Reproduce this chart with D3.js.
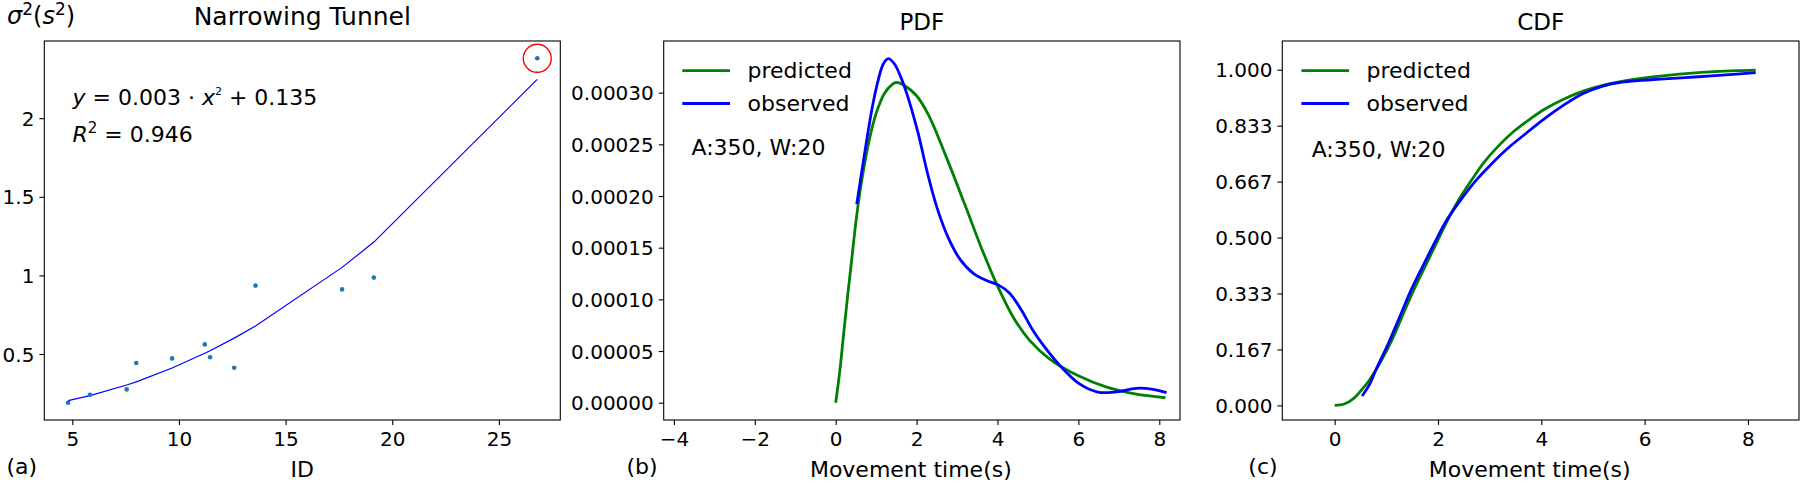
<!DOCTYPE html>
<html>
<head>
<meta charset="utf-8">
<script src="https://cdn.jsdelivr.net/npm/d3@7/dist/d3.min.js"></script>
<style>
  html, body { margin: 0; padding: 0; background: #fff; }
  svg { display: block; }
  text { font-family: "DejaVu Sans", sans-serif; fill: #000; }
</style>
</head>
<body>
<svg id="chart" width="1800" height="482"></svg>
<script>
// ---------------- DATA ----------------
// Panel (a): Narrowing Tunnel
const idValues    = [4.80, 5.83, 7.55, 8.00, 9.68, 11.21, 11.46, 12.59, 13.59, 17.65, 19.14, 26.80];
const sigmaValues = [0.190, 0.241, 0.275, 0.443, 0.472, 0.561, 0.479, 0.413, 0.935, 0.911, 0.986, 2.381];
const fitValues   = [0.203, 0.235, 0.303, 0.323, 0.411, 0.505, 0.521, 0.601, 0.678, 1.051, 1.212, 2.247];
const highlightIndex = 11;
const aXTicks = [5, 10, 15, 20, 25];
const aYTicks = [0.5, 1, 1.5, 2];
const aYTickLabels = ["0.5", "1", "1.5", "2"];

// Panel (b): PDF
const pdfPredX = [0, 0.1, 0.2, 0.3, 0.4, 0.5, 0.6, 0.7, 0.8, 0.9, 1.0, 1.2, 1.4, 1.5, 1.7, 2.0, 2.3, 2.7, 3.2, 3.6, 4.0, 4.4, 4.8, 5.3, 6.0, 6.7, 7.4, 8.15];
const pdfPredY = [0, 0.000030, 0.000068, 0.000105, 0.000140, 0.000175, 0.000204, 0.000228, 0.000249, 0.000266, 0.000280, 0.000299, 0.000308, 0.000310, 0.000307, 0.000297, 0.000278, 0.000241, 0.000191, 0.000150, 0.000113, 0.000082, 0.000060, 0.000042, 0.000026, 0.000015, 0.0000085, 0.0000048];
const pdfObsX = [0.52, 0.71, 0.90, 1.05, 1.18, 1.30, 1.45, 1.60, 1.75, 2.03, 2.27, 2.51, 2.79, 3.07, 3.41, 3.74, 4.02, 4.30, 4.59, 4.87, 5.16, 5.53, 6.01, 6.48, 6.95, 7.43, 7.81, 8.18];
const pdfObsY = [0.000192, 0.000240, 0.000285, 0.000312, 0.000328, 0.000333, 0.000328, 0.000316, 0.000300, 0.000262, 0.000222, 0.000188, 0.000159, 0.000139, 0.000125, 0.000118, 0.000114, 0.000106, 0.0000897, 0.0000703, 0.0000542, 0.0000365, 0.0000187, 0.0000103, 0.0000106, 0.0000139, 0.0000132, 0.0000097];
const bXTicks = [-4, -2, 0, 2, 4, 6, 8];
const bYTicks = [0, 0.00005, 0.0001, 0.00015, 0.0002, 0.00025, 0.0003];

// Panel (c): CDF
const cdfPredX = [0, 0.185, 0.37, 0.52, 0.67, 0.89, 1.11, 1.33, 1.56, 1.78, 2.0, 2.22, 2.44, 2.67, 2.89, 3.19, 3.48, 3.78, 4.07, 4.44, 4.81, 5.19, 5.56, 5.93, 6.30, 7.04, 7.78, 8.15];
const cdfPredY = [0, 0.004, 0.021, 0.046, 0.075, 0.130, 0.195, 0.274, 0.354, 0.423, 0.493, 0.562, 0.622, 0.676, 0.724, 0.776, 0.818, 0.853, 0.883, 0.913, 0.936, 0.953, 0.965, 0.974, 0.981, 0.991, 0.997, 0.999];
const cdfObsX = [0.53, 0.67, 0.81, 1.04, 1.26, 1.48, 1.70, 1.93, 2.15, 2.44, 2.74, 3.04, 3.33, 3.70, 4.07, 4.44, 4.81, 5.19, 5.56, 5.93, 6.30, 7.04, 7.78, 8.15];
const cdfObsY = [0.028, 0.061, 0.110, 0.185, 0.264, 0.344, 0.413, 0.483, 0.547, 0.612, 0.671, 0.720, 0.763, 0.810, 0.855, 0.895, 0.929, 0.951, 0.963, 0.968, 0.972, 0.979, 0.987, 0.991];
const cXTicks = [0, 2, 4, 6, 8];
const cYTicks = [0, 1/6, 2/6, 3/6, 4/6, 5/6, 1];

const legendLabels = ["predicted", "observed"];
const seriesColors = ["green", "blue"];
const infoText = "A:350, W:20";

// ---------------- DRAWING ----------------
const svg = d3.select("#chart");
const TOP = 41, BOTTOM = 420;
const TICK_FS = 20, LABEL_FS = 22;

function makeAxes(cfg) {
  const x = d3.scaleLinear().domain(cfg.xDomain).range([cfg.left, cfg.right]);
  const y = d3.scaleLinear().domain(cfg.yDomain).range([BOTTOM, TOP]);
  const g = svg.append("g");

  const xa = g.append("g").attr("transform", `translate(0,${BOTTOM})`)
    .call(d3.axisBottom(x).tickValues(cfg.xTicks).tickSize(4.9).tickPadding(4.5)
      .tickFormat(d => d < 0 ? "\u2212" + Math.abs(d) : String(d)));
  const ya = g.append("g").attr("transform", `translate(${cfg.left},0)`)
    .call(d3.axisLeft(y).tickValues(cfg.yTicks).tickSize(4.9).tickPadding(5)
      .tickFormat(cfg.yFormat));
  [xa, ya].forEach(a => {
    a.select(".domain").remove();
    a.selectAll(".tick line").attr("stroke", "#000").attr("stroke-width", 1.1);
    a.selectAll(".tick text").attr("font-size", TICK_FS).attr("font-family", "DejaVu Sans").attr("fill", "#000");
  });
  xa.selectAll(".tick text").attr("dy", null).attr("y", 25.7).attr("dominant-baseline", "alphabetic");
  ya.selectAll(".tick text").attr("dy", "0.36em");

  g.append("rect").attr("x", cfg.left).attr("y", TOP)
    .attr("width", cfg.right - cfg.left).attr("height", BOTTOM - TOP)
    .attr("fill", "none").attr("stroke", "#000").attr("stroke-width", 1.1);

  return { x, y, g };
}

const line = (x, y, curve) => d3.line().x(d => x(d[0])).y(d => y(d[1])).curve(curve || d3.curveLinear);
const smooth = d3.curveCatmullRom.alpha(0.5);

// ---- Panel (a)
{
  const cfg = { left: 44.3, right: 560.3, xDomain: [3.687, 27.88], yDomain: [0.0802, 2.491],
    xTicks: aXTicks, yTicks: aYTicks, yFormat: (d, i) => aYTickLabels[i] };
  const { x, y, g } = makeAxes(cfg);
  const fitPts = idValues.map((v, i) => [v, fitValues[i]]).sort((a, b) => a[0] - b[0]);
  g.append("path").attr("d", line(x, y)(fitPts)).attr("fill", "none").attr("stroke", "blue").attr("stroke-width", 1.2);
  g.selectAll("circle.pt").data(idValues.map((v, i) => [v, sigmaValues[i]])).join("circle")
    .attr("class", "pt").attr("cx", d => x(d[0])).attr("cy", d => y(d[1])).attr("r", 2.3).attr("fill", "#1f77b4");
  g.append("circle").attr("cx", x(idValues[highlightIndex])).attr("cy", y(sigmaValues[highlightIndex])).attr("r", 14)
    .attr("fill", "none").attr("stroke", "red").attr("stroke-width", 1.4);

  svg.append("text").attr("x", (cfg.left + cfg.right) / 2).attr("y", 25).attr("text-anchor", "middle")
    .attr("font-size", 25).text("Narrowing Tunnel");
  const yl = svg.append("text").attr("x", 7).attr("y", 23.5).attr("font-size", 24);
  yl.append("tspan").attr("font-style", "italic").text("\u03c3");
  yl.append("tspan").attr("font-size", 17).attr("dy", -9).text("2");
  yl.append("tspan").attr("dy", 9).text("(");
  yl.append("tspan").attr("font-style", "italic").text("s");
  yl.append("tspan").attr("font-size", 17).attr("dy", -9).text("2");
  yl.append("tspan").attr("dy", 9).text(")");
  svg.append("text").attr("x", (cfg.left + cfg.right) / 2).attr("y", 477).attr("text-anchor", "middle")
    .attr("font-size", LABEL_FS).text("ID");
  svg.append("text").attr("x", 6.5).attr("y", 473.5).attr("font-size", LABEL_FS).text("(a)");

  const eq = svg.append("text").attr("x", 72.5).attr("y", 105).attr("font-size", 22);
  eq.append("tspan").attr("font-style", "italic").text("y");
  eq.append("tspan").text(" = 0.003 \u00b7 ");
  eq.append("tspan").attr("font-style", "italic").text("x");
  eq.append("tspan").attr("font-size", 11).attr("dy", -10).text("2");
  eq.append("tspan").attr("dy", 10).text(" + 0.135");
  const r2 = svg.append("text").attr("x", 72.5).attr("y", 141.5).attr("font-size", 22);
  r2.append("tspan").attr("font-style", "italic").text("R");
  r2.append("tspan").attr("font-size", 15).attr("dy", -9).text("2");
  r2.append("tspan").attr("dy", 9).text(" = 0.946");
}

function legendAndInfo(legendX, textX, infoX, infoY) {
  legendLabels.forEach((lab, i) => {
    const yy = [70.7, 103.5][i];
    svg.append("line").attr("x1", legendX).attr("x2", legendX + 47.7).attr("y1", yy).attr("y2", yy)
      .attr("stroke", seriesColors[i]).attr("stroke-width", 2.8);
    svg.append("text").attr("x", textX).attr("y", yy).attr("dy", "0.33em").attr("font-size", 22).text(lab);
  });
  svg.append("text").attr("x", infoX).attr("y", infoY).attr("dy", "0.36em").attr("font-size", 22).text(infoText);
}

// ---- Panel (b)
{
  const cfg = { left: 663.7, right: 1180, xDomain: [-4.252, 8.512], yDomain: [-0.00001674, 0.00035],
    xTicks: bXTicks, yTicks: bYTicks, yFormat: d3.format(".5f") };
  const { x, y, g } = makeAxes(cfg);
  g.append("path").attr("d", line(x, y, smooth)(pdfPredX.map((v, i) => [v, pdfPredY[i]])))
    .attr("fill", "none").attr("stroke", seriesColors[0]).attr("stroke-width", 2.8);
  g.append("path").attr("d", line(x, y, smooth)(pdfObsX.map((v, i) => [v, pdfObsY[i]])))
    .attr("fill", "none").attr("stroke", seriesColors[1]).attr("stroke-width", 2.8);
  svg.append("text").attr("x", (cfg.left + cfg.right) / 2).attr("y", 30).attr("text-anchor", "middle")
    .attr("font-size", 23).text("PDF");
  svg.append("text").attr("x", (cfg.left + cfg.right) / 2 - 11).attr("y", 477).attr("text-anchor", "middle")
    .attr("font-size", LABEL_FS).text("Movement time(s)");
  svg.append("text").attr("x", 626.5).attr("y", 473.5).attr("font-size", LABEL_FS).text("(b)");
  legendAndInfo(682.3, 747.5, 691.5, 146.7);
}

// ---- Panel (c)
{
  const cfg = { left: 1282.3, right: 1799, xDomain: [-1.014, 8.988], yDomain: [-0.0435, 1.0855],
    xTicks: cXTicks, yTicks: cYTicks, yFormat: d3.format(".3f") };
  const { x, y, g } = makeAxes(cfg);
  g.append("path").attr("d", line(x, y, smooth)(cdfPredX.map((v, i) => [v, cdfPredY[i]])))
    .attr("fill", "none").attr("stroke", seriesColors[0]).attr("stroke-width", 2.8);
  g.append("path").attr("d", line(x, y, smooth)(cdfObsX.map((v, i) => [v, cdfObsY[i]])))
    .attr("fill", "none").attr("stroke", seriesColors[1]).attr("stroke-width", 2.8);
  svg.append("text").attr("x", (cfg.left + cfg.right) / 2).attr("y", 30).attr("text-anchor", "middle")
    .attr("font-size", 23).text("CDF");
  svg.append("text").attr("x", (cfg.left + cfg.right) / 2 - 11).attr("y", 477).attr("text-anchor", "middle")
    .attr("font-size", LABEL_FS).text("Movement time(s)");
  svg.append("text").attr("x", 1248.3).attr("y", 473.5).attr("font-size", LABEL_FS).text("(c)");
  legendAndInfo(1301.4, 1366.5, 1311.7, 148.7);
}
</script>
</body>
</html>
